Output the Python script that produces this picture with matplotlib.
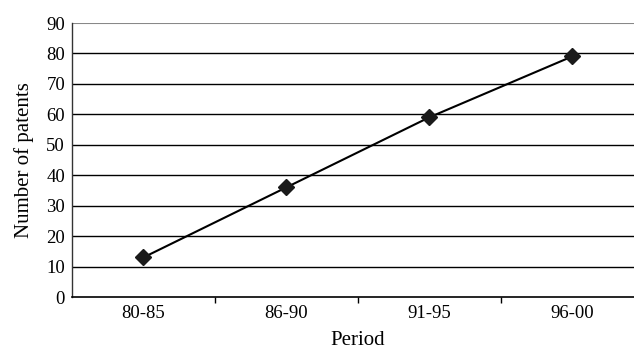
import matplotlib
matplotlib.use("Agg")
import matplotlib.pyplot as plt

periods = ["80-85", "86-90", "91-95", "96-00"]
patents = [13, 36, 59, 79]
yticks = [0, 10, 20, 30, 40, 50, 60, 70, 80, 90]

plt.rcParams['font.family'] = ['Liberation Serif', 'DejaVu Serif']

fig = plt.figure(figsize=(6.34, 3.51), dpi=100)
ax = fig.add_axes([72/634, 1-297/351, 571.5/634, 274/351])

x = list(range(len(periods)))
ax.plot(x, patents, color='black', lw=1.5, marker='D', markersize=8.5,
        markerfacecolor='#1a1a1a', markeredgecolor='#1a1a1a', zorder=3)

ax.set_xlim(-0.5, len(periods) - 0.5)
ax.set_ylim(0, 90)
ax.set_yticks(yticks)
for v in yticks[1:-1]:
    ax.axhline(v, color='black', lw=1.0, zorder=1)
ax.axhline(90, color='#888888', lw=1.5, zorder=1)

ax.set_xticks(x)
ax.set_xticklabels(periods, fontsize=13.5)
ax.set_xticks([i + 0.5 for i in x[:-1]], minor=True)
ax.tick_params(axis='x', which='major', length=0, pad=6)
ax.tick_params(axis='x', which='minor', length=4, width=1, color='black')
ax.tick_params(axis='y', length=0, pad=5, labelsize=13.5)

for s in ['top', 'right']:
    ax.spines[s].set_visible(False)
ax.spines['left'].set_color('#333333')
ax.spines['bottom'].set_color('black')
ax.spines['left'].set_linewidth(1.0)
ax.spines['bottom'].set_linewidth(1.2)

ax.set_ylabel("Number of patents", fontsize=15, labelpad=9)
ax.set_xlabel("Period", fontsize=15, labelpad=6.5)

fig.savefig("out.png", dpi=100)
